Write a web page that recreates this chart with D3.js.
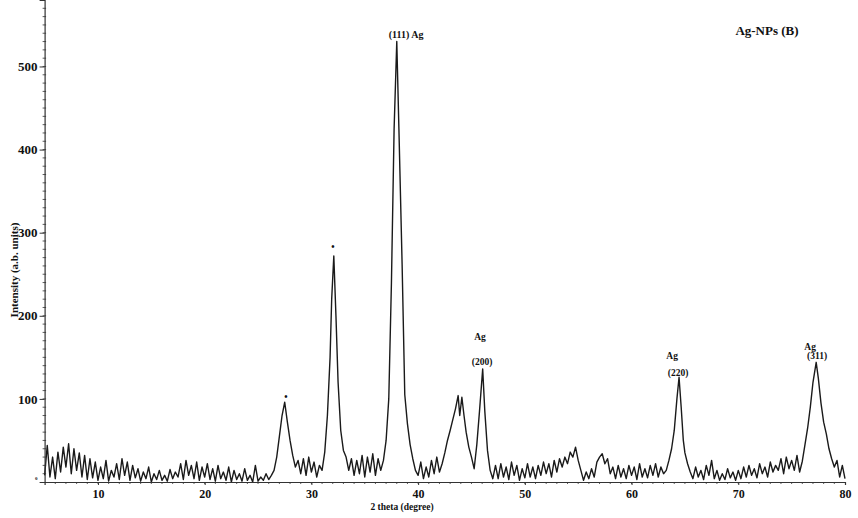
<!DOCTYPE html>
<html>
<head>
<meta charset="utf-8">
<script src="https://cdn.jsdelivr.net/npm/d3@7"></script>
<style>
  body { margin: 0; background: #fff; }
  svg text { font-family: "Liberation Serif", "DejaVu Serif", serif; font-weight: bold; fill: #111; }
  .line { fill: none; stroke: #1a1a1a; stroke-width: 1.4; stroke-linejoin: round; }
  .axis-line { stroke: #333; stroke-width: 1.2; }
  .tick-mark { stroke: #333; stroke-width: 1; }
</style>
</head>
<body>
<div id="xrd-svg"></div>
<script>

// XRD pattern (2 theta in degrees, intensity in a.u.)
var twoTheta = [
  5.00, 5.25, 5.50, 5.75, 6.00, 6.25, 6.50, 6.75, 7.00, 7.25, 7.50, 7.75, 8.00, 8.25, 8.50, 8.75, 9.00, 9.25, 9.50, 9.75,
  10.00, 10.25, 10.50, 10.75, 11.00, 11.25, 11.50, 11.75, 12.00, 12.25, 12.50, 12.75, 13.00, 13.25, 13.50, 13.75, 14.00, 14.25, 14.50, 14.75,
  15.00, 15.25, 15.50, 15.75, 16.00, 16.25, 16.50, 16.75, 17.00, 17.25, 17.50, 17.75, 18.00, 18.25, 18.50, 18.75, 19.00, 19.25, 19.50, 19.75,
  20.00, 20.25, 20.50, 20.75, 21.00, 21.25, 21.50, 21.75, 22.00, 22.25, 22.50, 22.75, 23.00, 23.25, 23.50, 23.75, 24.00, 24.25, 24.50, 24.75,
  25.00, 25.25, 25.50, 25.75, 26.00, 26.25, 26.50, 26.75, 27.00, 27.25, 27.50, 27.75, 28.00, 28.25, 28.50, 28.75, 29.00, 29.25, 29.50, 29.75,
  30.00, 30.25, 30.50, 30.75, 31.00, 31.25, 31.50, 31.75, 31.90, 32.10, 32.30, 32.50, 32.75, 33.00, 33.25, 33.50, 33.75, 34.00, 34.25, 34.50, 34.75,
  35.00, 35.25, 35.50, 35.75, 36.00, 36.25, 36.50, 36.75, 37.00, 37.25, 37.50, 37.75, 38.00, 38.20, 38.50, 38.75, 39.00, 39.25, 39.50, 39.75,
  40.00, 40.25, 40.50, 40.75, 41.00, 41.25, 41.50, 41.75, 42.00, 42.25, 42.50, 42.75, 43.00, 43.25, 43.50, 43.75, 43.90, 44.10, 44.30, 44.50, 44.75,
  45.00, 45.25, 45.50, 45.75, 46.05, 46.25, 46.50, 46.75, 47.00, 47.25, 47.50, 47.75, 48.00, 48.25, 48.50, 48.75, 49.00, 49.25, 49.50, 49.75,
  50.00, 50.25, 50.50, 50.75, 51.00, 51.25, 51.50, 51.75, 52.00, 52.25, 52.50, 52.75, 53.00, 53.25, 53.50, 53.75, 54.00, 54.25, 54.50, 54.75,
  55.00, 55.25, 55.50, 55.75, 56.00, 56.25, 56.50, 56.75, 57.00, 57.25, 57.50, 57.75, 58.00, 58.25, 58.50, 58.75, 59.00, 59.25, 59.50, 59.75,
  60.00, 60.25, 60.50, 60.75, 61.00, 61.25, 61.50, 61.75, 62.00, 62.25, 62.50, 62.75, 63.00, 63.25, 63.50, 63.75, 64.00, 64.25, 64.45, 64.65,
  64.85, 65.00, 65.25, 65.50, 65.75, 66.00, 66.25, 66.50, 66.75, 67.00, 67.25, 67.50, 67.75, 68.00, 68.25, 68.50, 68.75, 69.00, 69.25, 69.50, 69.75,
  70.00, 70.25, 70.50, 70.75, 71.00, 71.25, 71.50, 71.75, 72.00, 72.25, 72.50, 72.75, 73.00, 73.25, 73.50, 73.75, 74.00, 74.25, 74.50, 74.75,
  75.00, 75.25, 75.50, 75.75, 76.00, 76.25, 76.50, 76.75, 77.00, 77.30, 77.50, 77.75, 78.00, 78.25, 78.50, 78.75, 79.00, 79.25, 79.50, 79.75, 80.00
];

var intensity = [
  8, 44, 6, 30, 4, 36, 12, 42, 18, 46, 10, 40, 14, 35, 6, 32, 3, 28, 5, 24,
  2, 18, 4, 26, 1, 14, 6, 22, 3, 28, 8, 24, 2, 20, 5, 16, 1, 12, 4, 18,
  0, 10, 3, 14, 2, 8, 1, 15, 4, 12, 6, 22, 3, 26, 8, 20, 4, 24, 2, 18,
  6, 22, 3, 16, 1, 20, 4, 12, 2, 18, 0, 14, 3, 10, 1, 16, 2, 8, 0, 20,
  1, 6, 2, 10, 3, 8, 14, 30, 55, 80, 96, 72, 50, 32, 18, 26, 10, 28, 8, 30,
  12, 24, 6, 20, 14, 36, 80, 150, 220, 272, 200, 120, 62, 38, 30, 14, 28, 8, 26, 10, 32,
  6, 30, 12, 34, 8, 28, 14, 26, 50, 100, 240, 425, 530, 425, 262, 105, 70, 45, 28, 14,
  8, 24, 4, 18, 6, 26, 10, 30, 12, 22, 35, 50, 62, 75, 88, 104, 80, 102, 80, 60, 42,
  30, 16, 45, 85, 136, 85, 38, 14, 4, 20, 4, 22, 6, 18, 3, 24, 8, 20, 2, 16,
  5, 22, 6, 18, 4, 20, 8, 24, 10, 22, 6, 26, 12, 28, 18, 30, 22, 36, 30, 42,
  26, 14, 2, 12, 4, 16, 6, 24, 30, 34, 22, 28, 10, 18, 4, 20, 6, 16, 4, 20,
  8, 18, 3, 22, 6, 16, 5, 20, 8, 22, 6, 18, 10, 14, 26, 40, 62, 100, 126, 90,
  50, 35, 22, 12, 4, 18, 6, 14, 3, 20, 8, 26, 4, 14, 2, 10, 3, 16, 5, 12, 2,
  14, 4, 18, 6, 20, 8, 16, 5, 22, 10, 18, 6, 24, 12, 20, 14, 28, 10, 30, 16,
  26, 14, 32, 12, 25, 45, 65, 90, 120, 144, 125, 95, 72, 58, 40, 28, 18, 26, 6, 20, 4
];

var xTicks = [10, 20, 30, 40, 50, 60, 70, 80];
var yTicks = [0, 100, 200, 300, 400, 500];

// peak annotations, anchored in data units
var labelText = ["(111) Ag", "Ag", "(200)", "Ag", "(220)", "Ag", "(311)", "\u2022", "\u2022"];
var labelTheta = [38.87, 45.8, 46.0, 63.8, 64.36, 76.73, 77.39, 27.62, 32.02];
var labelIntensity = [534, 171, 141, 148, 128, 159, 148, 99, 279];

var titleText = "Ag-NPs (B)";
var xTitle = "2 theta (degree)";
var yTitle = "Intensity (a.b. units)";

// set the dimensions and margins of the graph
var margin = {top: 0, right: 13, bottom: 36, left: 44.6},
    width = 858 - margin.left - margin.right,
    height = 518 - margin.top - margin.bottom;

var x = d3.scaleLinear().domain([5, 80]).range([0, width]);
var y = d3.scaleLinear().domain([0, 580]).range([height, 0]);

var svg = d3.select("#xrd-svg").append("svg")
    .attr("width", 858)
    .attr("height", 518)
  .append("g")
    .attr("transform", "translate(" + margin.left + "," + margin.top + ")");

// minor ticks on the y axis
svg.selectAll(".y-minor")
    .data(d3.range(10, 580, 10))
  .enter().append("line")
    .attr("class", "tick-mark")
    .attr("x1", -2).attr("x2", 1.5)
    .attr("y1", function(d) { return y(d); })
    .attr("y2", function(d) { return y(d); })
    .style("stroke-width", 0.8);

// minor ticks on the x axis
svg.selectAll(".x-minor")
    .data(d3.range(6, 80, 1))
  .enter().append("line")
    .attr("class", "tick-mark")
    .attr("x1", function(d) { return x(d); })
    .attr("x2", function(d) { return x(d); })
    .attr("y1", height).attr("y2", height + 2)
    .style("stroke-width", 0.8);

// the pattern itself
var valueline = d3.line()
    .x(function(d, i) { return x(twoTheta[i]); })
    .y(function(d) { return y(d); });

svg.append("path")
    .datum(intensity)
    .attr("class", "line")
    .attr("d", valueline);

// axes
var xAxis = svg.append("g")
    .attr("transform", "translate(0," + height + ")")
    .call(d3.axisBottom(x).tickValues(xTicks).tickSize(3).tickPadding(4).tickFormat(d3.format("d")));

var yAxis = svg.append("g")
    .call(d3.axisLeft(y).tickValues(yTicks).tickSize(5).tickPadding(2).tickFormat(d3.format("d")));

[xAxis, yAxis].forEach(function(ax) {
  ax.select(".domain").attr("class", "axis-line").attr("stroke", "#333");
  ax.selectAll(".tick line").attr("stroke", "#333");
  ax.selectAll(".tick text").attr("fill", "#111");
});
xAxis.selectAll(".tick text").style("font-size", "12px");
yAxis.selectAll(".tick text").style("font-size", "13px");
// the zero label is drawn as a tiny mark in the picture
yAxis.selectAll(".tick").filter(function(d) { return d === 0; })
    .select("text").style("font-size", "5px").attr("dy", "-0.6em");
yAxis.selectAll(".tick").filter(function(d) { return d === 0; })
    .select("line").remove();

// peak labels
svg.selectAll(".peak-label")
    .data(labelText)
  .enter().append("text")
    .attr("class", "peak-label")
    .attr("text-anchor", "middle")
    .attr("x", function(d, i) { return x(labelTheta[i]); })
    .attr("y", function(d, i) { return y(labelIntensity[i]); })
    .style("font-size", function(d, i) { return i === 0 ? "10px" : "9.5px"; })
    .text(function(d) { return d; });

// title
svg.append("text")
    .attr("x", 767 - margin.left)
    .attr("y", 34.5)
    .attr("text-anchor", "middle")
    .style("font-size", "13px")
    .text(titleText);

// axis titles
svg.append("text")
    .attr("x", 402 - margin.left)
    .attr("y", 510)
    .attr("text-anchor", "middle")
    .style("font-size", "9.5px")
    .text(xTitle);

svg.append("text")
    .attr("transform", "translate(" + (18.5 - margin.left) + ",270) rotate(-90)")
    .attr("text-anchor", "middle")
    .style("font-size", "11px")
    .text(yTitle);

</script>
</body>
</html>
